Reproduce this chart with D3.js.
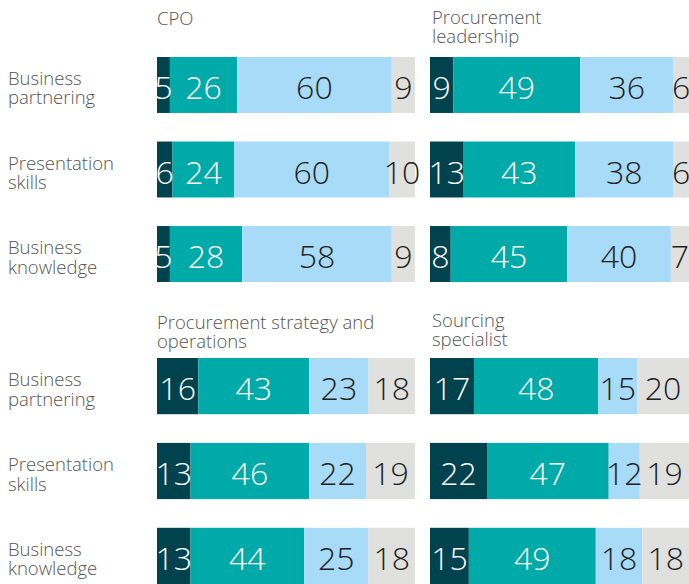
<!DOCTYPE html>
<html>
<head>
<meta charset="utf-8">
<script src="https://cdn.jsdelivr.net/npm/d3@7"></script>
<style>
  html, body { margin: 0; padding: 0; background: #fff; }
  svg { display: block; font-family: "Open Sans", sans-serif; }
</style>
</head>
<body>
<svg id="chart" width="689" height="584"></svg>
<script>
// ---- data ----
const rowLabels = [["Business", "partnering"], ["Presentation", "skills"], ["Business", "knowledge"]];
const panelTitles = [
  ["CPO"],
  ["Procurement", "leadership"],
  ["Procurement strategy and", "operations"],
  ["Sourcing", "specialist"]
];
const cpoValues = [[5, 26, 60, 9], [6, 24, 60, 10], [5, 28, 58, 9]];
const leadershipValues = [[9, 49, 36, 6], [13, 43, 38, 6], [8, 45, 40, 7]];
const strategyValues = [[16, 43, 23, 18], [13, 46, 22, 19], [13, 44, 25, 18]];
const sourcingValues = [[17, 48, 15, 20], [22, 47, 12, 19], [15, 49, 18, 18]];
const segmentColors = ["#00434f", "#00aaa8", "#a7dbf7", "#e0e0df"];
const textColors = ["#ffffff", "#ffffff", "#222222", "#222222"];

// ---- layout ----
const svg = d3.select("#chart");
const panels = [
  { title: panelTitles[0], values: cpoValues, x: [157, 415], y: [57, 282], titleX: 157, titleY: 25, showRows: true },
  { title: panelTitles[1], values: leadershipValues, x: [430, 689], y: [57, 282], titleX: 432, titleY: 24, showRows: false },
  { title: panelTitles[2], values: strategyValues, x: [157, 415], y: [358, 584], titleX: 157, titleY: 329, showRows: true },
  { title: panelTitles[3], values: sourcingValues, x: [430, 689], y: [358, 584], titleX: 432, titleY: 327, showRows: false }
];

panels.forEach(p => {
  const x = d3.scaleLinear().domain([0, 100]).range(p.x);
  const y = d3.scaleBand().domain(d3.range(p.values.length)).range(p.y).paddingInner(0.338);
  const g = svg.append("g");

  // title (two-line titles as one text with tspans)
  const t = g.append("text").attr("x", p.titleX).attr("y", p.titleY)
    .attr("fill", "#555").attr("font-size", 18.5).attr("font-weight", 300);
  p.title.forEach((line, i) => {
    t.append("tspan").attr("x", p.titleX).attr("dy", i === 0 ? 0 : 18.5).text(line);
  });

  p.values.forEach((row, ri) => {
    let cum = 0;
    const segs = row.map((v, si) => { const s = { v, si, x0: cum, x1: cum + v }; cum += v; return s; });
    const rg = g.append("g");
    rg.selectAll("rect").data(segs).join("rect")
      .attr("x", d => x(d.x0))
      .attr("width", d => x(d.x1) - x(d.x0))
      .attr("y", y(ri))
      .attr("height", y.bandwidth())
      .attr("fill", d => segmentColors[d.si]);
    const cy = y(ri) + y.bandwidth() / 2;
    rg.selectAll("text.val").data(segs).join("text")
      .attr("class", "val")
      .attr("x", d => (x(d.x0) + x(d.x1)) / 2)
      .attr("y", cy + 14)
      .attr("text-anchor", "middle")
      .attr("font-size", 32)
      .attr("font-weight", 300)
      .attr("fill", d => textColors[d.si])
      .text(d => d.v);

    if (p.showRows) {
      const lt = g.append("text").attr("x", 8).attr("y", cy)
        .attr("fill", "#555").attr("font-size", 18.5).attr("font-weight", 300);
      rowLabels[ri].forEach((line, i) => {
        lt.append("tspan").attr("x", 8).attr("dy", i === 0 ? 0 : 19.5).text(line);
      });
    }
  });
});
</script>
</body>
</html>
